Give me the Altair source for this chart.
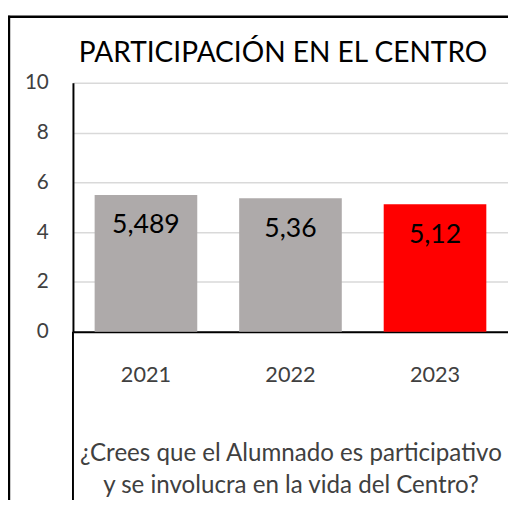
import altair as alt
import pandas as pd

years = ["2021", "2022", "2023"]
values = [5.489, 5.36, 5.12]
value_labels = ["5,489", "5,36", "5,12"]
bar_colors = ["#AEAAAA", "#AEAAAA", "#FF0000"]
y_ticks = [0, 2, 4, 6, 8, 10]
title_text = "PARTICIPACIÓN EN EL CENTRO"
x_title = ["¿Crees que el Alumnado es participativo", "y se involucra en la vida del Centro?"]

df = pd.DataFrame({"year": years, "value": values, "label": value_labels, "color": bar_colors})

FONT = "Lato"
W, H = 442, 253
TXT = "#404040"

x_enc = alt.X(
    "year:N", sort=years,
    scale=alt.Scale(paddingInner=0.29, paddingOuter=0.15),
    axis=alt.Axis(
        title=x_title, labelAngle=0, labelFontSize=22, labelColor=TXT, labelFont=FONT,
        labelPadding=34, ticks=False, domainColor="black", domainWidth=2,
        titleFontSize=24.5, titleFontWeight="normal", titleColor=TXT, titleFont=FONT,
        titlePadding=57, titleLineHeight=32,
    ),
)
y_enc = alt.Y(
    "value:Q", scale=alt.Scale(domain=[0, 10]),
    axis=alt.Axis(
        values=y_ticks, title=None, labelFontSize=21, labelColor=TXT, labelFont=FONT,
        labelPadding=25, ticks=False, domainColor="black", domainWidth=2,
        gridColor="#D9D9D9", gridWidth=1.5, format="d",
    ),
)

base = alt.Chart(df)
bars = base.mark_bar().encode(x=x_enc, y=y_enc, color=alt.Color("color:N", scale=None))
labels = base.mark_text(dy=31, fontSize=27, font=FONT, color="black", baseline="middle").encode(
    x=alt.X("year:N", sort=years), y="value:Q", text="label:N"
)

one = alt.Data(values=[{"k": 1}])
title_mark = alt.Chart(one).mark_text(
    align="left", baseline="middle", fontSize=28.5, font=FONT, color="black"
).encode(x=alt.value(6), y=alt.value(-30), text=alt.value(title_text))
left_border = alt.Chart(one).mark_rule(color="black", strokeWidth=2.5).encode(
    x=alt.value(-65), y=alt.value(-68), y2=alt.value(H + 200)
)
top_border = alt.Chart(one).mark_rule(color="black", strokeWidth=2.5).encode(
    x=alt.value(-66), x2=alt.value(W + 20), y=alt.value(-67)
)
axis_ext = alt.Chart(one).mark_rule(color="black", strokeWidth=2).encode(
    x=alt.value(0), y=alt.value(H), y2=alt.value(H + 200)
)

chart = alt.layer(bars, labels, axis_ext, left_border, top_border, title_mark).properties(
    width=W, height=H,
    autosize=alt.AutoSizeParams(type="none"),
    padding={"left": 66, "top": 72, "right": 0, "bottom": 167},
    background="white",
).configure_view(stroke=None)

chart.save("out.html", embed_options={"renderer": "svg", "actions": False})
